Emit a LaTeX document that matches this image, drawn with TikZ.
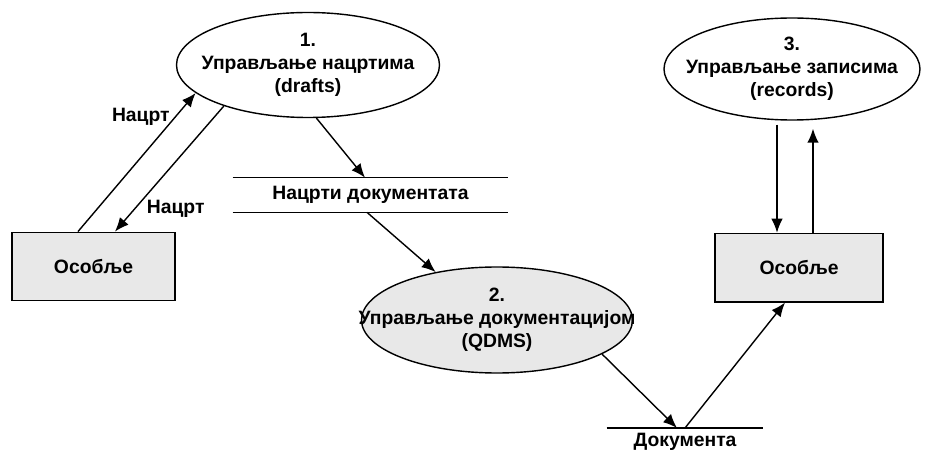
\documentclass[tikz,border=0pt]{standalone}
\usepackage{fontspec}
\setmainfont{Liberation Sans}
\usepackage{tikz}
\usetikzlibrary{shapes.geometric, arrows.meta, positioning}
\definecolor{staffgray}{RGB}{232, 232, 232}

\begin{document}
\begin{tikzpicture}[
    proc/.style={ellipse, draw, thick, align=center, inner xsep=-1cm, inner ysep=0pt},
    actor/.style={draw, thick, fill=staffgray, minimum height=1.37cm},
    flow/.style={-{Latex[length=2.8mm, width=2.3mm]}, thick},
    font=\bfseries\fontsize{11}{13}\selectfont]
    \useasboundingbox (0,0) rectangle (18.5,9.06);

    \node[proc, minimum width=5.26cm, minimum height=2.1cm] (drafts) at (6.16,7.76) {1.\\Управљање нацртима\\(drafts)};
    \node[proc, fill=staffgray, minimum width=5.42cm, minimum height=2.12cm] (qdms) at (9.94,2.66) {2.\\Управљање документацијом\\(QDMS)};
    \node[proc, minimum width=5.12cm, minimum height=2.04cm] (records) at (15.84,7.68) {3.\\Управљање записима\\(records)};

    \node[actor, minimum width=3.26cm] (staffleft) at (1.87,3.73) {Особље};
    \node[actor, minimum width=3.36cm, below=2.24cm of records, xshift=0.14cm] (staffright) {Особље};

    \node[minimum width=5.5cm, minimum height=0.68cm, inner sep=0pt] (draftstore) at (7.41,5.16) {Нацрти документата};
    \draw[thick] (draftstore.north west) -- (draftstore.north east);
    \draw[thick] (draftstore.south west) -- (draftstore.south east);
    \node[minimum width=3.12cm, inner ysep=2.5pt, anchor=north] (docstore) at (13.70,0.5) {Документа};
    \draw[thick] (docstore.north west) -- (docstore.north east);

    \coordinate (downfoot) at ([xshift=-0.44cm]staffright.north);
    \coordinate (upfoot) at ([xshift=0.28cm]staffright.north);

    \draw[flow] ([xshift=-0.31cm]staffleft.north) -- (drafts.194) node[pos=0.83, left, inner sep=3pt] {Нацрт};
    \draw[flow] (drafts.206) -- ([xshift=0.43cm]staffleft.north) node[pos=0.73, below right, inner sep=1pt] {Нацрт};
    \draw[flow] (drafts.279) -- ([xshift=-0.11cm]draftstore.north);
    \draw[flow] ([xshift=-0.07cm]draftstore.south) -- (qdms.142);
    \draw[flow] (qdms.342) -- ([xshift=-0.16cm]docstore.north);
    \draw[flow] (docstore.north) -- ([xshift=-0.28cm]staffright.south);
    \draw[flow, shorten <=0.08cm] (downfoot |- records.south) -- (downfoot);
    \draw[flow, shorten >=0.16cm] (upfoot) -- (upfoot |- records.south);
\end{tikzpicture}
\end{document}
